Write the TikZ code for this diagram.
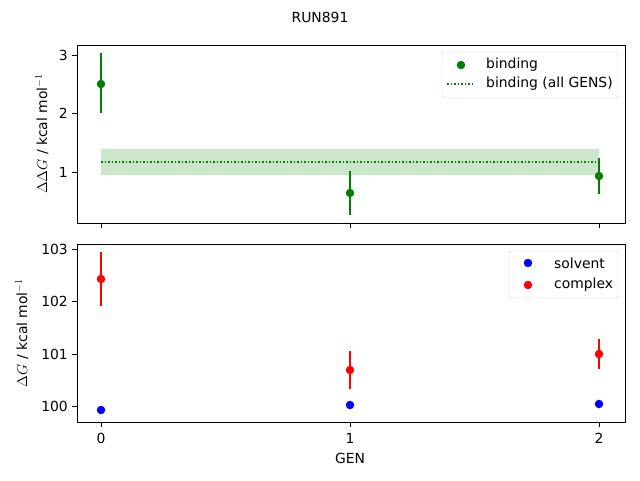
\documentclass[tikz,border=0pt]{standalone}
\usepackage{fontspec}
\setmainfont{DejaVu Sans}
\begin{document}
\begin{tikzpicture}[x=1pt,y=-1pt,
lbl/.style={font=\fontsize{13.9}{16}\selectfont,inner sep=0pt},
pont/.style={circle,inner sep=0pt,minimum size=8.5pt},
hiba/.style={line width=1.5pt},
tengely/.style={line width=0.8pt},
]
\useasboundingbox (0,0) rectangle (640,480);
\node[lbl] (title) at (320,17) {RUN891};

% upper axes
\fill[green!50!black,opacity=0.2] (101,149) rectangle (599,175);
\draw[green!50!black,dotted,line width=1.5pt] (101,162) -- (599,162);
\foreach \x/\y/\a/\b in {101/84/53/113, 350/193/171/215, 599/176/158/194}{
  \draw[hiba,green!50!black] (\x,\a) -- (\x,\b);
  \node[pont,fill=green!50!black] at (\x,\y) {};
}
\draw[tengely] (77,45) rectangle (625,223);
\foreach \y/\t in {55/3,113/2,172/1}{
  \draw[tengely] (77,\y) -- ++(-5,0);
  \node[lbl,anchor=east] at (68,\y) {\t};
}
\foreach \x in {101,350,599} \draw[tengely] (\x,223) -- ++(0,5);
\node[lbl,rotate=90] (ylab1) at (42,134) {$\Delta\Delta G$ / kcal mol$^{-1}$};
\draw[black!20,fill=white,fill opacity=0.8,rounded corners=2pt] (442,52) rectangle (618,98);
\node[pont,fill=green!50!black] (leg1) at (461,65) {};
\node[lbl,anchor=west] at (486,65) {binding};
\draw[green!50!black,dotted,line width=1.5pt] (447,84) -- (474,84);
\node[lbl,anchor=west] at (486,84) {binding (all GENS)};

% lower axes
\foreach \x/\y/\a/\b in {101/279/252/306, 350/370/351/389, 599/354/339/369}{
  \draw[hiba,red] (\x,\a) -- (\x,\b);
  \node[pont,fill=red] at (\x,\y) {};
}
\foreach \x/\y in {101/410, 350/405, 599/404}
  \node[pont,fill=blue] at (\x,\y) {};
\draw[tengely] (77,244) rectangle (625,422);
\foreach \y/\t in {249/103,301/102,354/101,406.7/100}{
  \draw[tengely] (77,\y) -- ++(-5,0);
  \node[lbl,anchor=east] at (68,\y) {\t};
}
\foreach \x/\t in {101/0,350/1,599/2}{
  \draw[tengely] (\x,422) -- ++(0,5);
  \node[lbl] at (\x,438) {\t};
}
\node[lbl] (xlab) at (350,458) {GEN};
\node[lbl,rotate=90] (ylab2) at (22,333) {$\Delta G$ / kcal mol$^{-1}$};
\draw[black!20,fill=white,fill opacity=0.8,rounded corners=2pt] (509,251) rectangle (618,298);
\node[pont,fill=blue] (leg2) at (528,263) {};
\node[lbl,anchor=west] at (554,263) {solvent};
\node[pont,fill=red] (leg3) at (528,285) {};
\node[lbl,anchor=west] at (554,285) {complex};
\end{tikzpicture}
\end{document}
